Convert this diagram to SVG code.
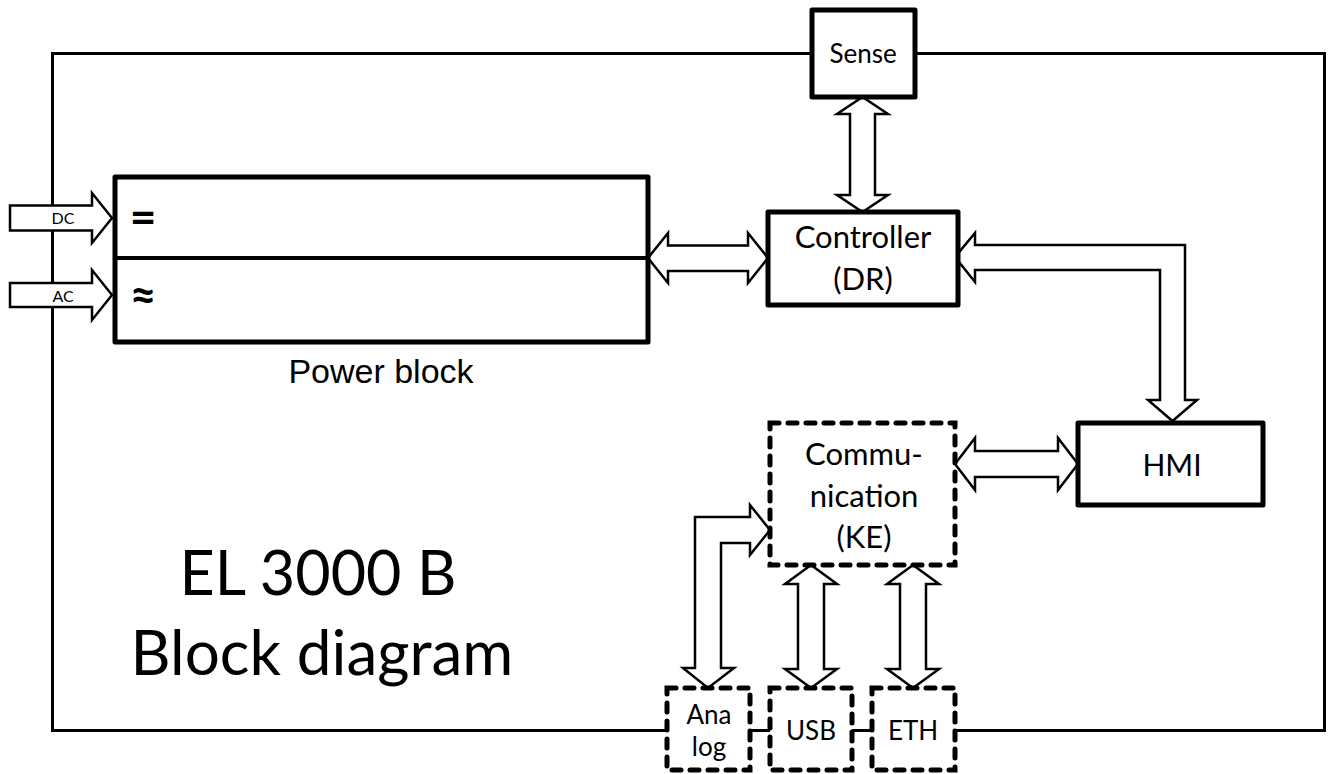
<svg xmlns="http://www.w3.org/2000/svg" width="1330" height="774" viewBox="0 0 1330 774">
<style>
.frame{fill:none;stroke:#000;stroke-width:3}
.box{fill:#fff;stroke:#000;stroke-width:5;stroke-linejoin:round}
.dbox{fill:#fff;stroke:#000;stroke-width:5;stroke-dasharray:9 9;stroke-linecap:round}
.arr{fill:#fff;stroke:#000;stroke-width:2.5;stroke-linejoin:miter}
.t{font-family:Lato,"Liberation Sans",sans-serif;fill:#000;text-anchor:middle}
.a{font-family:"Liberation Sans",Arial,sans-serif;fill:#000;text-anchor:middle}
</style>
<rect class="frame" x="52.5" y="53.5" width="1272" height="677"/>
<g id="connectors">
<polygon class="arr" points="648,258 668,233 668,245.5 748,245.5 748,233 768,258 748,283 748,271 668,271 668,283"/>
<polygon class="arr" points="862.5,97 888,114 875,114 875,195 888,195 862.5,212 837,195 850,195 850,114 837,114"/>
<polygon class="arr" points="955,257 975,233 975,245 1185,245 1185,400 1197,400 1172.5,421 1148,400 1160,400 1160,270 975,270 975,282"/>
<polygon class="arr" points="955,464 975,438 975,451 1058,451 1058,438 1078,464 1058,490 1058,477 975,477 975,490"/>
<polygon class="arr" points="770,530 750,505 750,517 695,517 695,668 683,668 708,688 734,668 721,668 721,543 750,543 750,555"/>
<polygon class="arr" points="811,565 837,584 824,584 824,669 837,669 811,688 785,669 798,669 798,584 785,584"/>
<polygon class="arr" points="913,565 939,584 926,584 926,669 939,669 913,688 887,669 900,669 900,584 887,584"/>
<polygon class="arr" points="112,218 92,193 92,205.5 10,205.5 10,230.5 92,230.5 92,243"/>
<polygon class="arr" points="112,295 92,270 92,283 10,283 10,307 92,307 92,320"/>
</g>
<g id="dc-label"><text class="t" x="63" y="224" font-size="16">DC</text></g>
<g id="ac-label"><text class="t" x="63" y="302" font-size="16">AC</text></g>
<g id="power-block">
<rect class="box" x="115" y="177" width="533" height="165"/>
<line x1="115" y1="258" x2="648" y2="258" stroke="#000" stroke-width="4"/>
<text class="t" x="143" y="233" font-size="46" font-weight="bold">=</text>
<text class="t" x="143" y="311" font-size="46" font-weight="bold">≈</text>
<text class="a" x="381" y="383" font-size="34">Power block</text>
</g>
<g id="sense">
<rect class="box" x="812" y="10" width="103" height="87"/>
<text class="t" x="863" y="63" font-size="26">Sense</text>
</g>
<g id="controller">
<rect class="box" x="768" y="212" width="190" height="93"/>
<text class="t" x="863" y="248" font-size="31">Controller</text>
<text class="t" x="863" y="290" font-size="31">(DR)</text>
</g>
<g id="hmi">
<rect class="box" x="1078" y="423" width="185" height="82"/>
<text class="t" x="1172" y="476" font-size="30">HMI</text>
</g>
<g id="communication">
<rect class="dbox" x="770" y="423" width="185" height="142"/>
<text class="t" x="864" y="465" font-size="31">Commu-</text>
<text class="t" x="864" y="507" font-size="31">nication</text>
<text class="t" x="864" y="548" font-size="31">(KE)</text>
</g>
<g id="analog">
<rect class="dbox" x="667" y="688" width="83" height="82"/>
<text class="t" x="709" y="724" font-size="26">Ana</text>
<text class="t" x="709" y="756" font-size="26">log</text>
</g>
<g id="usb">
<rect class="dbox" x="770" y="688" width="82" height="82"/>
<text class="t" x="811" y="740" font-size="26">USB</text>
</g>
<g id="eth">
<rect class="dbox" x="872" y="688" width="83" height="82"/>
<text class="t" x="913" y="740" font-size="26">ETH</text>
</g>
<g id="title">
<text class="t" x="318" y="595" font-size="61">EL 3000 B</text>
<text class="t" x="322" y="675" font-size="62">Block diagram</text>
</g>
</svg>
